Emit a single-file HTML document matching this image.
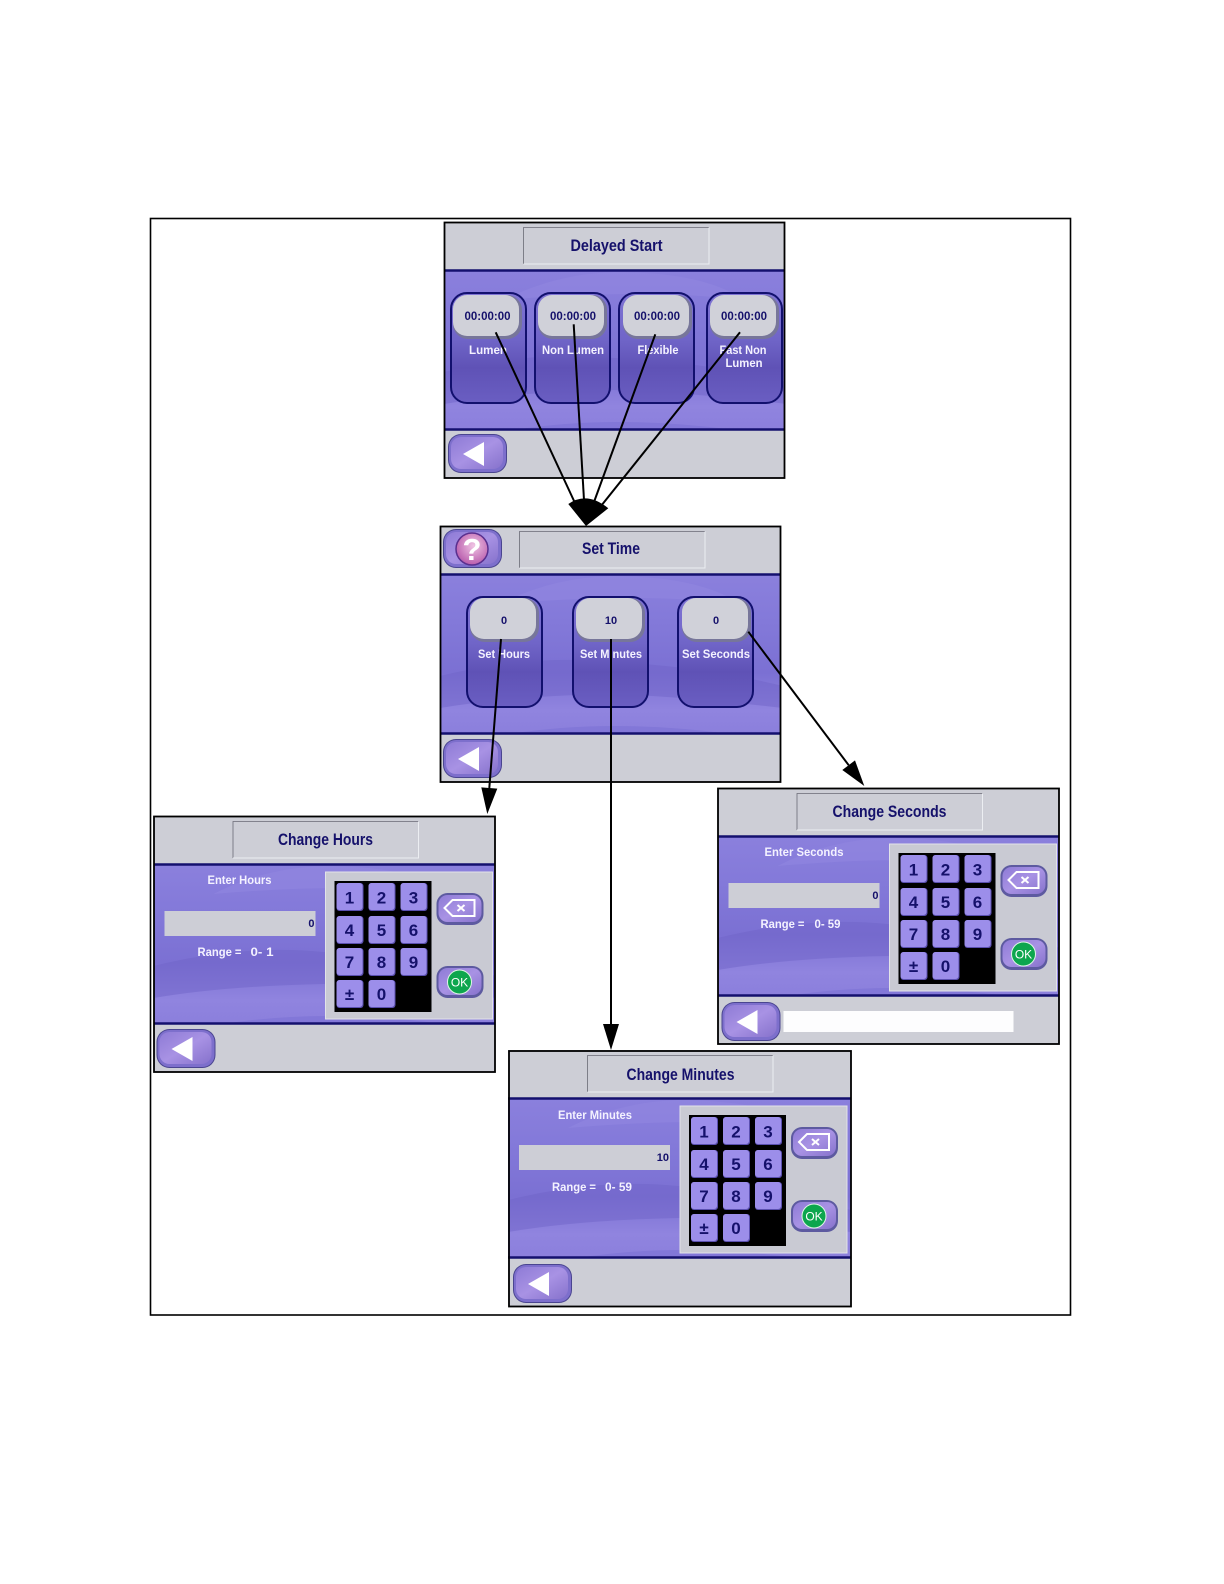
<!DOCTYPE html>
<html lang="en">
<head>
<meta charset="utf-8">
<title>Delayed Start diagram</title>
<style>
html,body{margin:0;padding:0;background:#fff}
svg{display:block}
text{font-family:"Liberation Sans",sans-serif;font-weight:bold}
.t{font-size:17px;fill:#15116b;text-anchor:middle}
.w{font-size:11.5px;fill:#f4f2ff}
.wc{font-size:11.5px;fill:#f4f2ff;text-anchor:middle}
.v{font-size:12px;fill:#15116b;text-anchor:middle}
.d{font-size:11px;fill:#15116b;text-anchor:middle}
.k{font-size:17px;fill:#15116b;text-anchor:middle}
.n{font-size:11px;fill:#15116b;text-anchor:end}
</style>
</head>
<body>
<svg width="1224" height="1584" viewBox="0 0 1224 1584" xmlns="http://www.w3.org/2000/svg">
<defs>
<linearGradient id="bg" x1="0" y1="0" x2="0" y2="1">
<stop offset="0" stop-color="#8b80dd"/><stop offset=".3" stop-color="#8379d9"/><stop offset=".62" stop-color="#7b70d3"/><stop offset=".85" stop-color="#9084df"/><stop offset="1" stop-color="#8b7fdc"/>
</linearGradient>
<linearGradient id="cardfill" x1="0" y1="0" x2="0" y2="1">
<stop offset="0" stop-color="#7f74d4"/><stop offset=".42" stop-color="#7065c8"/><stop offset=".68" stop-color="#5f52b6"/><stop offset="1" stop-color="#6a5ec2"/>
</linearGradient>
<linearGradient id="btn" x1="0" y1="0" x2="1" y2="1">
<stop offset="0" stop-color="#8e7bd6"/><stop offset=".5" stop-color="#a892e4"/><stop offset="1" stop-color="#8672cc"/>
</linearGradient>
<radialGradient id="help" cx=".55" cy=".4" r=".65">
<stop offset="0" stop-color="#f0c4e4"/><stop offset="1" stop-color="#b454a8"/>
</radialGradient>
<g id="base">
<rect x="0" y="0" width="343" height="256" fill="#cdced6"/>
<rect x="0" y="48" width="343" height="160" fill="url(#bg)"/>
<path d="M60 78Q110 52 170 50Q260 50 300 78Q200 66 60 78Z" fill="#9286e0" opacity=".55"/>
<path d="M0 150Q90 128 170 136Q260 140 343 160L343 182Q240 170 170 168Q70 170 0 182Z" fill="#6f63c8" opacity=".5"/>
<path d="M70 208Q170 192 290 208Z" fill="#8277d8"/>
<line x1="0" y1="48.500" x2="343" y2="48.500" stroke="#14106e" stroke-width="2.500"/>
<line x1="0" y1="207.500" x2="343" y2="207.500" stroke="#14106e" stroke-width="2.500"/>
<path d="M79.500 42V5.500H265" fill="none" stroke="#6a6a76" stroke-width=".8"/>
<path d="M79.500 42H265V5.500" fill="none" stroke="#eceef2" stroke-width="1"/>
</g>
<g id="pill">
<rect x="0" y="0" width="59" height="39" rx="13" fill="#4a4590"/>
<rect x="1" y="1" width="57" height="37" rx="12" fill="#7d6fcc"/>
<rect x="3" y="3" width="52" height="32" rx="10" fill="url(#btn)"/>
</g>
<g id="back"><use href="#pill"/><path d="M15 20L36 8V32Z" fill="#fff"/></g>
<g id="card"><rect x="0" y="0" width="75" height="110" rx="16" fill="url(#cardfill)" stroke="#12106e" stroke-width="2"/></g>
<g id="cbtn">
<rect x="0" y="0" width="69" height="44" rx="15" fill="#77769a"/>
<rect x="0" y="0" width="66" height="41" rx="14" fill="#d0d1d9"/>
</g>
<g id="key">
<rect x="0" y="0" width="27" height="28" rx="3" fill="#5b50b0"/>
<rect x="0" y="0" width="26" height="27" rx="3" fill="#9c8eea"/>
</g>
<g id="pad">
<rect x="172" y="56" width="167" height="147" fill="#c9cad3" stroke="#e2e3e8" stroke-width="1"/>
<rect x="181" y="65" width="97" height="131" fill="#000"/>
<use href="#key" x="183" y="67"/><use href="#key" x="215" y="67"/><use href="#key" x="247" y="67"/>
<use href="#key" x="183" y="100"/><use href="#key" x="215" y="100"/><use href="#key" x="247" y="100"/>
<use href="#key" x="183" y="132"/><use href="#key" x="215" y="132"/><use href="#key" x="247" y="132"/>
<use href="#key" x="183" y="164"/><use href="#key" x="215" y="164"/>
<rect x="283" y="77" width="47" height="32" rx="11" fill="#5d5aa0"/>
<rect x="285" y="79" width="43" height="27" rx="9" fill="url(#btn)"/>
<path d="M291 92L299 84H321V100H299Z" fill="none" stroke="#fff" stroke-width="2"/>
<path d="M304 89L311 95M311 89L304 95" stroke="#fff" stroke-width="2"/>
<rect x="283" y="150" width="47" height="32" rx="11" fill="#5d5aa0"/>
<rect x="285" y="152" width="43" height="27" rx="9" fill="url(#btn)"/>
<circle cx="306" cy="166" r="12" fill="#0da64e" stroke="#dff5e6" stroke-width="1"/>
<rect x="11" y="95" width="151" height="25" fill="#cdced6"/>
</g>
</defs>

<rect width="1224" height="1584" fill="#fff"/>
<rect x="150.500" y="218.500" width="920" height="1096.500" fill="none" stroke="#000" stroke-width="1.600"/>

<!-- Delayed Start -->
<g transform="translate(444,222)">
<use href="#base"/>
<rect x="340" y="-1" width="4" height="259" fill="#fff"/>
<use href="#card" x="7" y="71"/><use href="#card" x="91" y="71"/><use href="#card" x="175" y="71"/><use href="#card" x="263" y="71"/>
<use href="#cbtn" x="9" y="73"/><use href="#cbtn" x="94" y="73"/><use href="#cbtn" x="179" y="73"/><use href="#cbtn" x="266" y="73"/>
<text class="t" x="172.500" y="29" textLength="92" lengthAdjust="spacingAndGlyphs">Delayed Start</text>
<text class="v" x="43.500" y="98" textLength="46" lengthAdjust="spacingAndGlyphs">00:00:00</text>
<text class="v" x="129" y="98" textLength="46" lengthAdjust="spacingAndGlyphs">00:00:00</text>
<text class="v" x="213" y="98" textLength="46" lengthAdjust="spacingAndGlyphs">00:00:00</text>
<text class="v" x="300" y="98" textLength="46" lengthAdjust="spacingAndGlyphs">00:00:00</text>
<text class="wc" x="44" y="132" textLength="38" lengthAdjust="spacingAndGlyphs">Lumen</text>
<text class="wc" x="129" y="132" textLength="62" lengthAdjust="spacingAndGlyphs">Non Lumen</text>
<text class="wc" x="214" y="132" textLength="41" lengthAdjust="spacingAndGlyphs">Flexible</text>
<text class="wc" x="299" y="132" textLength="47" lengthAdjust="spacingAndGlyphs">Fast Non</text>
<text class="wc" x="300" y="145" textLength="37" lengthAdjust="spacingAndGlyphs">Lumen</text>
<use href="#back" x="4" y="212"/>
<rect x=".5" y=".5" width="340" height="255.500" fill="none" stroke="#000" stroke-width="1.800"/>
</g>

<!-- Set Time -->
<g transform="translate(440,526)">
<use href="#base"/>
<rect x="340" y="-1" width="4" height="259" fill="#fff"/>
<use href="#card" x="27" y="71"/><use href="#card" x="133" y="71"/><use href="#card" x="238" y="71"/>
<use href="#cbtn" x="30" y="72"/><use href="#cbtn" x="136" y="72"/><use href="#cbtn" x="242" y="72"/>
<use href="#pill" x="3" y="3"/>
<circle cx="32" cy="23" r="16" fill="url(#help)" stroke="#5a2f8e" stroke-width="1.500"/>
<text x="32" y="34" font-size="31" fill="#fff" text-anchor="middle">?</text>
<text class="t" x="171" y="28" textLength="58" lengthAdjust="spacingAndGlyphs">Set Time</text>
<text class="d" x="64" y="98">0</text>
<text class="d" x="171" y="98">10</text>
<text class="d" x="276" y="98">0</text>
<text class="wc" x="64" y="132" textLength="52" lengthAdjust="spacingAndGlyphs">Set Hours</text>
<text class="wc" x="171" y="132" textLength="62" lengthAdjust="spacingAndGlyphs">Set Minutes</text>
<text class="wc" x="276" y="132" textLength="68" lengthAdjust="spacingAndGlyphs">Set Seconds</text>
<use href="#back" x="3" y="213"/>
<rect x=".5" y=".5" width="340" height="255.500" fill="none" stroke="#000" stroke-width="1.800"/>
</g>

<!-- Change Hours -->
<g transform="translate(153.5,816)">
<use href="#base"/>
<rect x="341" y="-1" width="4" height="259" fill="#fff"/>
<use href="#pad"/>
<text class="t" x="172" y="29" textLength="95" lengthAdjust="spacingAndGlyphs">Change Hours</text>
<text class="wc" x="86" y="68" textLength="64" lengthAdjust="spacingAndGlyphs">Enter Hours</text>
<text class="n" x="161" y="111">0</text>
<text class="w" x="44" y="140" textLength="44" lengthAdjust="spacingAndGlyphs">Range =</text>
<text class="w" x="97" y="140" textLength="23" lengthAdjust="spacingAndGlyphs">0- 1</text>
<text class="k" x="196" y="87.500">1</text><text class="k" x="228" y="87.500">2</text><text class="k" x="260" y="87.500">3</text>
<text class="k" x="196" y="120">4</text><text class="k" x="228" y="120">5</text><text class="k" x="260" y="120">6</text>
<text class="k" x="196" y="152">7</text><text class="k" x="228" y="152">8</text><text class="k" x="260" y="152">9</text>
<text class="k" x="196" y="184">±</text><text class="k" x="228" y="184">0</text>
<text x="306" y="170.500" font-size="12" fill="#fff" style="font-weight:normal" text-anchor="middle">OK</text>
<use href="#back" x="3" y="213"/>
<rect x=".5" y=".5" width="341" height="255.500" fill="none" stroke="#000" stroke-width="1.800"/>
</g>

<!-- Change Seconds -->
<g transform="translate(717.5,788)">
<use href="#base"/>
<rect x="341" y="-1" width="4" height="259" fill="#fff"/>
<use href="#pad"/>
<rect x="66" y="223" width="230" height="21" fill="#fdfdfe"/>
<text class="t" x="172" y="29" textLength="114" lengthAdjust="spacingAndGlyphs">Change Seconds</text>
<text class="wc" x="86.500" y="68" textLength="79" lengthAdjust="spacingAndGlyphs">Enter Seconds</text>
<text class="n" x="161" y="111">0</text>
<text class="w" x="43" y="140" textLength="44" lengthAdjust="spacingAndGlyphs">Range =</text>
<text class="w" x="97" y="140" textLength="26" lengthAdjust="spacingAndGlyphs">0- 59</text>
<text class="k" x="196" y="87.500">1</text><text class="k" x="228" y="87.500">2</text><text class="k" x="260" y="87.500">3</text>
<text class="k" x="196" y="120">4</text><text class="k" x="228" y="120">5</text><text class="k" x="260" y="120">6</text>
<text class="k" x="196" y="152">7</text><text class="k" x="228" y="152">8</text><text class="k" x="260" y="152">9</text>
<text class="k" x="196" y="184">±</text><text class="k" x="228" y="184">0</text>
<text x="306" y="170.500" font-size="12" fill="#fff" style="font-weight:normal" text-anchor="middle">OK</text>
<use href="#back" x="4" y="214"/>
<rect x=".5" y=".5" width="341" height="255.500" fill="none" stroke="#000" stroke-width="1.800"/>
</g>

<!-- Change Minutes -->
<g transform="translate(508,1050)">
<use href="#base"/><use href="#pad"/>
<text class="t" x="172.500" y="30" textLength="108" lengthAdjust="spacingAndGlyphs">Change Minutes</text>
<text class="wc" x="87" y="69" textLength="74" lengthAdjust="spacingAndGlyphs">Enter Minutes</text>
<text class="n" x="161" y="111">10</text>
<text class="w" x="44" y="141" textLength="44" lengthAdjust="spacingAndGlyphs">Range =</text>
<text class="w" x="97" y="141" textLength="27" lengthAdjust="spacingAndGlyphs">0- 59</text>
<text class="k" x="196" y="87.500">1</text><text class="k" x="228" y="87.500">2</text><text class="k" x="260" y="87.500">3</text>
<text class="k" x="196" y="120">4</text><text class="k" x="228" y="120">5</text><text class="k" x="260" y="120">6</text>
<text class="k" x="196" y="152">7</text><text class="k" x="228" y="152">8</text><text class="k" x="260" y="152">9</text>
<text class="k" x="196" y="184">±</text><text class="k" x="228" y="184">0</text>
<text x="306" y="170.500" font-size="12" fill="#fff" style="font-weight:normal" text-anchor="middle">OK</text>
<use href="#back" x="5" y="214"/>
<rect x="1" y="1" width="342" height="255.500" fill="none" stroke="#000" stroke-width="1.800"/>
</g>

<!-- Connectors -->
<g stroke="#000" stroke-width="2" fill="none">
<line x1="495.700" y1="332.300" x2="575" y2="503"/>
<line x1="573.700" y1="324.300" x2="584" y2="500"/>
<line x1="655.300" y1="334.300" x2="594" y2="502"/>
<line x1="740" y1="332.300" x2="601" y2="506"/>
<line x1="501" y1="639" x2="489.300" y2="788"/>
<line x1="611" y1="639" x2="611" y2="1024"/>
<line x1="748.300" y1="631.700" x2="848.700" y2="765.200"/>
</g>
<g fill="#000">
<path d="M568.300 504Q587 491 608.300 508.300L586 526Z"/>
<polygon points="487.300,814 497.300,788.600 481.300,787.400"/>
<polygon points="611,1050 603,1024 619,1024"/>
<polygon points="864.300,786 855,760.400 842.300,770"/>
</g>
</svg>
</body>
</html>
